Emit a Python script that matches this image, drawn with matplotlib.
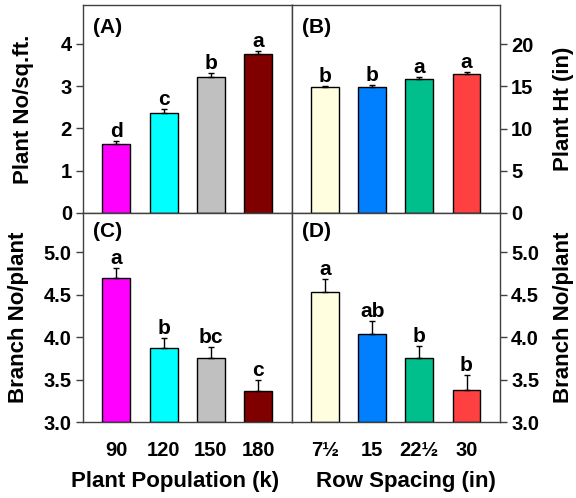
import matplotlib
matplotlib.use("Agg")
import matplotlib.pyplot as plt

plt.rcParams['font.family'] = ['Liberation Sans', 'DejaVu Sans']
plt.rcParams['font.weight'] = 'bold'

pop_labels = ['90', '120', '150', '180']
row_labels = ['7½', '15', '22½', '30']

plant_no = [1.63, 2.37, 3.21, 3.76]
plant_no_err = [0.08, 0.09, 0.10, 0.08]
plant_no_let = ['d', 'c', 'b', 'a']

plant_ht = [14.87, 14.95, 15.90, 16.40]
plant_ht_err = [0.20, 0.20, 0.20, 0.30]
plant_ht_let = ['b', 'b', 'a', 'a']

branch_pop = [4.69, 3.87, 3.75, 3.37]
branch_pop_err = [0.12, 0.12, 0.13, 0.13]
branch_pop_let = ['a', 'b', 'bc', 'c']

branch_row = [4.53, 4.03, 3.75, 3.38]
branch_row_err = [0.15, 0.16, 0.14, 0.17]
branch_row_let = ['a', 'ab', 'b', 'b']

pop_colors = ['#FF00FF', '#00FFFF', '#C0C0C0', '#800000']
row_colors = ['#FFFFE0', '#0080FF', '#00BF8C', '#FF4040']

W, H = 576, 498
fig = plt.figure(figsize=(W/100, H/100), dpi=100)

def px(x0, y0, x1, y1):
    return [x0/W, (H-y1)/H, (x1-x0)/W, (y1-y0)/H]

axA = fig.add_axes(px(83, 5, 292, 213))
axB = fig.add_axes(px(292, 5, 500, 213))
axC = fig.add_axes(px(83, 213, 292, 422))
axD = fig.add_axes(px(292, 213, 500, 422))

spine_c = '#404040'
TICK_FS = 14.5
LAB_FS = 16
LET_FS = 15

def draw(ax, vals, errs, lets, colors, ylim, yticks, yfmt, side):
    x = list(range(len(vals)))
    ax.bar(x, [v - ylim[0] for v in vals], bottom=ylim[0], width=0.59, color=colors,
           edgecolor='black', linewidth=1.0, zorder=2)
    ax.errorbar(x, vals, yerr=[[0]*len(vals), errs], fmt='none', ecolor='black',
                elinewidth=1.0, capsize=2.5, capthick=1.0, zorder=3)
    for xi, v, e, l in zip(x, vals, errs, lets):
        ax.text(xi, v + e, l, ha='center', va='bottom', fontsize=LET_FS,
                fontweight='bold')
    ax.set_xlim(-0.7, 3.71)
    ax.set_ylim(*ylim)
    ax.set_yticks(yticks)
    ax.set_yticklabels([yfmt.format(t) for t in yticks])
    for s in ax.spines.values():
        s.set_color(spine_c)
        s.set_linewidth(1.0)
    ax.tick_params(axis='x', length=0, labelsize=TICK_FS, pad=14)
    ax.tick_params(axis='y', labelsize=TICK_FS, length=5, width=1.0, color=spine_c,
                   direction='out', pad=3)
    if side == 'right':
        ax.yaxis.tick_right()
        ax.yaxis.set_label_position('right')
        ax.tick_params(axis='y', left=False, right=True, labelleft=False, labelright=True)

draw(axA, plant_no, plant_no_err, plant_no_let, pop_colors, (0, 4.923), [0, 1, 2, 3, 4], '{:.0f}', 'left')
draw(axB, plant_ht, plant_ht_err, plant_ht_let, row_colors, (0, 24.62), [0, 5, 10, 15, 20], '{:.0f}', 'right')
draw(axC, branch_pop, branch_pop_err, branch_pop_let, pop_colors, (3.0, 5.459), [3.0, 3.5, 4.0, 4.5, 5.0], '{:.1f}', 'left')
draw(axD, branch_row, branch_row_err, branch_row_let, row_colors, (3.0, 5.459), [3.0, 3.5, 4.0, 4.5, 5.0], '{:.1f}', 'right')

axA.set_ylabel('Plant No/sq.ft.', fontsize=LAB_FS, fontweight='bold')
axA.yaxis.set_label_coords((34 - 83) / 209, 0.5)
axC.set_ylabel('Branch No/plant', fontsize=LAB_FS, fontweight='bold')
axC.yaxis.set_label_coords((29 - 83) / 209, 0.5)
axB.set_ylabel('Plant Ht (in)', fontsize=LAB_FS, fontweight='bold')
axB.yaxis.set_label_coords((553 - 292) / 208, 0.5)
axD.set_ylabel('Branch No/plant', fontsize=LAB_FS, fontweight='bold')
axD.yaxis.set_label_coords((553 - 292) / 208, 0.5)

for ax in (axA, axB):
    ax.set_xticks([])
axC.set_xticks(range(4))
axC.set_xticklabels(pop_labels)
axD.set_xticks(range(4))
axD.set_xticklabels(row_labels)

fig.text(175.5 / W, 1 - 487 / H, 'Plant Population (k)', ha='center', va='baseline',
         fontsize=LAB_FS, fontweight='bold')
fig.text(406 / W, 1 - 487 / H, 'Row Spacing (in)', ha='center', va='baseline',
         fontsize=LAB_FS, fontweight='bold')

for ax, t, yy in zip((axA, axB, axC, axD), ['(A)', '(B)', '(C)', '(D)'],
                     [0.9375, 0.9375, 0.957, 0.957]):
    ax.text(0.048, yy, t, transform=ax.transAxes, ha='left', va='top',
            fontsize=LET_FS, fontweight='bold')

fig.savefig('out.png', dpi=100)
